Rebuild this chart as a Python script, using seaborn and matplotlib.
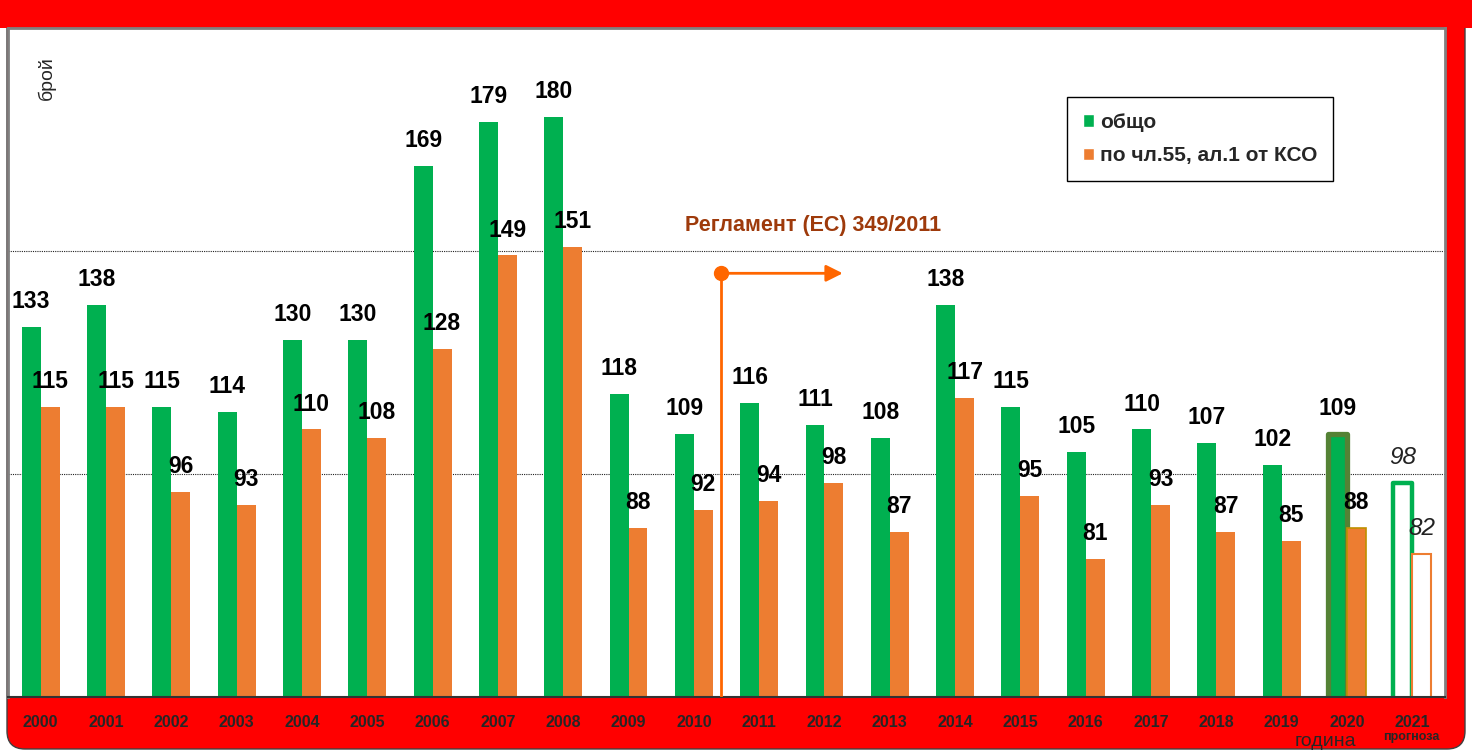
import numpy as np
import pandas as pd
import matplotlib
matplotlib.use('Agg')
import matplotlib.pyplot as plt
import matplotlib.transforms as mtrans
from matplotlib.patches import Patch, FancyBboxPatch, Rectangle
import seaborn as sns

# Data
years = ['2000', '2001', '2002', '2003', '2004', '2005', '2006', '2007', '2008', '2009', '2010',
         '2011', '2012', '2013', '2014', '2015', '2016', '2017', '2018', '2019', '2020', '2021']
total = [133, 138, 115, 114, 130, 130, 169, 179, 180, 118, 109,
         116, 111, 108, 138, 115, 105, 110, 107, 102, 109, 98]
art55 = [115, 115, 96, 93, 110, 108, 128, 149, 151, 88, 92,
         94, 98, 87, 117, 95, 81, 93, 87, 85, 88, 82]
series_names = ['общо', 'по чл.55, ал.1 от КСО']

green = '#00B050'
orange = '#ED7D31'
red = '#FF0000'

df = pd.DataFrame({
    'year': years * 2,
    'value': total + art55,
    'series': [series_names[0]] * len(years) + [series_names[1]] * len(years),
})

sns.set_style('white')
plt.rcParams['font.family'] = ['Liberation Sans', 'DejaVu Sans']

fig = plt.figure(figsize=(14.72, 7.51), dpi=100)
fig.patch.set_facecolor('white')
ax = fig.add_axes([8 / 1472, 54 / 751, 1437 / 1472, 669 / 751])

# red frame behind everything (pixel coordinates)
frame = FancyBboxPatch((7, 2), 1458, 800, boxstyle='round,pad=0,rounding_size=18',
                       facecolor=red, edgecolor='#404040', linewidth=1,
                       transform=mtrans.IdentityTransform(), zorder=-2)
fig.patches.append(frame)
fig.patches.append(Rectangle((0, 723), 1472, 30, facecolor=red, edgecolor='none',
                             transform=mtrans.IdentityTransform(), zorder=-1))

sns.barplot(data=df, x='year', y='value', hue='series', palette=[green, orange],
            width=0.58, saturation=1, linewidth=0, legend=False, ax=ax)

ax.set_facecolor('white')
ax.set_ylim(50, 200)
ax.set_xlim(-0.5, len(years) - 0.5)

# special styling for 2020 and 2021 (forecast)
gbars = ax.containers[0]
obars = ax.containers[1]
gbars[20].set_edgecolor('#548235')
gbars[20].set_linewidth(3.8)
gbars[20].set_joinstyle('round')
obars[20].set_edgecolor('#BF9000')
obars[20].set_linewidth(1.2)
gbars[21].set_facecolor('white')
gbars[21].set_edgecolor(green)
gbars[21].set_linewidth(3.2)
gbars[21].set_joinstyle('round')
obars[21].set_facecolor('white')
obars[21].set_edgecolor(orange)
obars[21].set_linewidth(1.5)

# value labels
for cont, vals in [(gbars, total), (obars, art55)]:
    texts = ax.bar_label(cont, labels=[str(v) for v in vals], padding=10,
                         fontsize=16.5, fontweight='bold', color='black')
    texts[-1].set_fontweight('normal')
    texts[-1].set_fontstyle('italic')
    texts[-1].set_fontsize(17.5)
    texts[-1].set_color('#222222')

# dotted grid lines
ax.set_yticks([100, 150])
ax.set_yticklabels([])
ax.tick_params(axis='y', length=0)
ax.yaxis.grid(True, linestyle=(0, (1, 1)), color='#222222', linewidth=0.8)
ax.set_axisbelow(True)

# x axis
ax.set_xticks(range(len(years)))
ax.set_xticklabels(years, fontsize=11.5, fontweight='bold')
ax.set_xticks(np.arange(-0.5, len(years)), minor=True)
ax.tick_params(axis='x', which='major', length=0, pad=13)
ax.tick_params(axis='x', which='minor', length=5, width=1, color='#222222', direction='out')
ax.set_xlabel('')
ax.set_ylabel('')

for side in ['left', 'top', 'right']:
    ax.spines[side].set_color('#808080')
    ax.spines[side].set_linewidth(2)
ax.spines['bottom'].set_color('#333333')
ax.spines['bottom'].set_linewidth(1.5)

# regulation marker
reg_x = 10.42
reg_end = 12.28
reg_y = 145
ax.plot([reg_x, reg_x], [50, reg_y], color='#FF6600', linewidth=2, zorder=5)
ax.plot([reg_x], [reg_y], marker='o', markersize=10, color='#FF6600', zorder=6)
ax.annotate('', xy=(reg_end, reg_y), xytext=(reg_x, reg_y),
            arrowprops=dict(arrowstyle='-|>', color='#FF6600', lw=2, mutation_scale=25,
                            shrinkA=0, shrinkB=0), zorder=6)
ax.text(11.82, 155.8, 'Регламент (ЕС) 349/2011', ha='center', va='center',
        fontsize=15.5, fontweight='bold', color='#9E3A0B')

# legend
handles = [Patch(facecolor=green, label=series_names[0]),
           Patch(facecolor=orange, label=series_names[1])]
leg = ax.legend(handles=handles, loc='upper left',
                bbox_to_anchor=(1067 / 1472, 1 - 97 / 751), bbox_transform=fig.transFigure,
                prop={'weight': 'bold', 'size': 15}, frameon=True, fancybox=False,
                handlelength=0.55, handleheight=0.55, handletextpad=0.3, labelspacing=0.7,
                borderpad=0.75, borderaxespad=0)
leg.get_frame().set_edgecolor('black')
leg.get_frame().set_linewidth(1)
leg.get_frame().set_alpha(1)

# axis texts
fig.text(47 / 1472, 1 - 78 / 751, 'брой', rotation=90, ha='center', va='center', fontsize=14)
fig.text(1325 / 1472, 1 - 741 / 751, 'година', ha='center', va='center', fontsize=14)
fig.text(1411 / 1472, 1 - 737 / 751, 'прогноза', ha='center', va='center', fontsize=9,
         fontweight='bold')

fig.savefig('out.png', dpi=100, facecolor=fig.get_facecolor())
